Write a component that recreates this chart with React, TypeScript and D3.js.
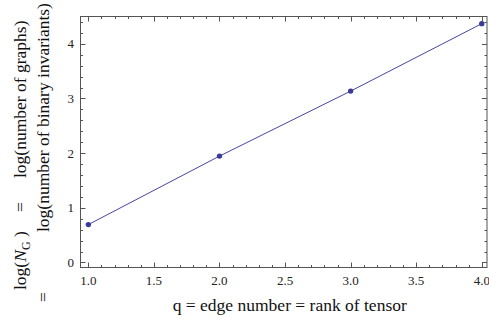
import React, { useEffect, useRef } from 'react';
import * as d3 from 'd3';

// q values and log(number of graphs)
const edgeNumbers = [1, 2, 3, 4];
const logGraphCounts = [0.693, 1.946, 3.135, 4.369];
const xTickValues = [1.0, 1.5, 2.0, 2.5, 3.0, 3.5, 4.0];
const yTickValues = [0, 1, 2, 3, 4];

const W = 489;
const H = 323;

function App() {
  const ref = useRef<SVGSVGElement | null>(null);

  useEffect(() => {
    const svg = d3.select(ref.current);
    svg.selectAll('*').remove();

    const left = 80.5, right = 487, top = 16.5, bottom = 267.5;
    const frameColor = '#555';
    const lineColor = '#4646a6';
    const font = "'Liberation Serif', 'DejaVu Serif', serif";
    const labelSize = '17.5px';

    const x = d3.scaleLinear().domain([0.94, 4.04]).range([left, right]);
    const y = d3.scaleLinear().domain([-0.092, 4.5]).range([bottom, top]);

    // frame
    svg.append('rect')
      .attr('x', left).attr('y', top)
      .attr('width', right - left).attr('height', bottom - top)
      .attr('fill', 'none').attr('stroke', frameColor).attr('stroke-width', 1);

    // minor / major ticks on all four sides
    const xMinor = d3.range(10, 41).map(d => d / 10);
    const yMinor = d3.range(0, 23).map(d => d / 5);
    const isMajorX = (v: number) => Math.abs(v * 2 - Math.round(v * 2)) < 1e-6;
    const isMajorY = (v: number) => Math.abs(v - Math.round(v)) < 1e-6;

    const ticks = svg.append('g').attr('stroke', frameColor).attr('stroke-width', 1);
    xMinor.forEach(v => {
      const len = isMajorX(v) ? 5 : 2.5;
      const px = Math.round(x(v)) + 0.5;
      ticks.append('line').attr('x1', px).attr('x2', px).attr('y1', bottom).attr('y2', bottom - len);
      ticks.append('line').attr('x1', px).attr('x2', px).attr('y1', top).attr('y2', top + len);
    });
    yMinor.forEach(v => {
      const len = isMajorY(v) ? 5 : 2.5;
      const py = Math.round(y(v)) + 0.5;
      ticks.append('line').attr('y1', py).attr('y2', py).attr('x1', left).attr('x2', left + len);
      ticks.append('line').attr('y1', py).attr('y2', py).attr('x1', right).attr('x2', right - len);
    });

    // tick labels
    svg.append('g').selectAll('text')
      .data(xTickValues)
      .enter()
      .append('text')
      .attr('x', d => x(d))
      .attr('y', 285)
      .attr('text-anchor', 'middle')
      .style('font-family', font)
      .style('font-size', '13px')
      .attr('fill', '#222')
      .text(d => d3.format('.1f')(d));

    svg.append('g').selectAll('text')
      .data(yTickValues)
      .enter()
      .append('text')
      .attr('x', 74)
      .attr('y', d => y(d) + 4.5)
      .attr('text-anchor', 'end')
      .style('font-family', font)
      .style('font-size', '13px')
      .attr('fill', '#222')
      .text(d => d);

    // data line and points
    const pts = edgeNumbers.map((q, i) => [q, logGraphCounts[i]] as [number, number]);
    const line = d3.line<[number, number]>()
      .x(d => x(d[0]))
      .y(d => y(d[1]));

    svg.append('path')
      .datum(pts)
      .attr('fill', 'none')
      .attr('stroke', lineColor)
      .attr('stroke-width', 1)
      .attr('d', line);

    svg.selectAll('circle.pt')
      .data(pts)
      .enter()
      .append('circle')
      .attr('class', 'pt')
      .attr('cx', d => x(d[0]))
      .attr('cy', d => y(d[1]))
      .attr('r', 2.7)
      .attr('fill', '#3a3a9a');

    // axis titles
    svg.append('text')
      .attr('x', (left + right) / 2 + 6)
      .attr('y', 311)
      .attr('text-anchor', 'middle')
      .style('font-family', font)
      .style('font-size', labelSize)
      .attr('fill', '#111')
      .text('q = edge number = rank of tensor');

    const rotText = (tx: number, ty: number, anchor: string) =>
      svg.append('text')
        .attr('transform', `translate(${tx},${ty}) rotate(-90)`)
        .attr('text-anchor', anchor)
        .style('font-family', font)
        .style('font-size', labelSize)
        .attr('fill', '#111');

    // first line of the y title
    const l1 = rotText(26, 290, 'start');
    l1.append('tspan').text('log(');
    l1.append('tspan').attr('font-style', 'italic').text('N');
    l1.append('tspan').style('font-size', '12px').attr('dy', 3.5).text('G');
    l1.append('tspan').attr('dy', -3.5).text('\u00a0)');
    rotText(26, 207, 'middle').text('=');
    rotText(26, 178, 'start').text('log(number of graphs)');

    // second line of the y title
    rotText(49, 302, 'start').text('=');
    rotText(49, 232, 'start').text('log(number of binary invariants)');
  }, []);

  return (
    <svg
      ref={ref}
      width={W}
      height={H}
      style={{ position: 'absolute', left: 0, top: 0, background: '#fff' }}
    />
  );
}

export default App;
